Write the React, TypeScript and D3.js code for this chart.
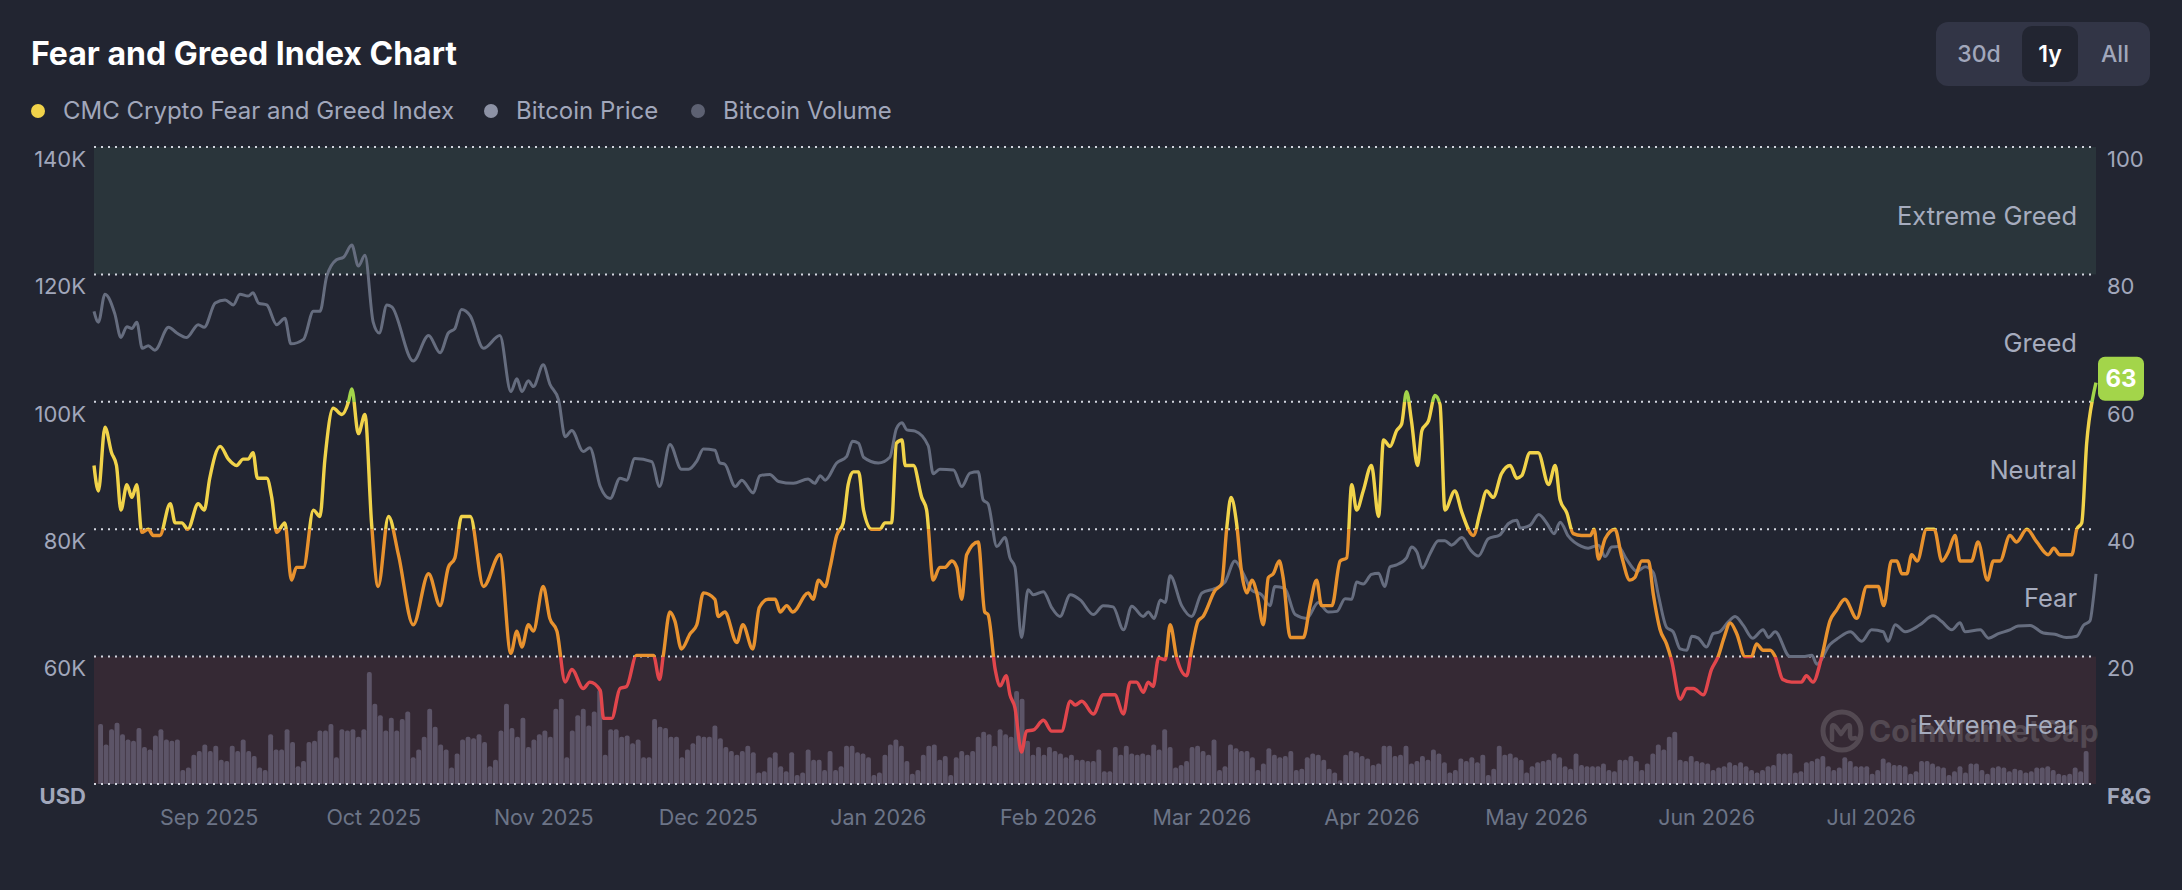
import React, { useEffect, useRef } from "react";
import * as d3 from "d3";

const DAY = 864e5;
const startDate = Date.UTC(2025, 7, 11);
const totalDays = 365;

// [day offset from startDate, index value]
const fearGreed: [number, number][] = [
  [0, 50], [0.8, 46], [2, 56], [3.2, 52], [4.1, 50], [4.9, 43], [6, 47], [6.9, 45], [7.8, 47], [8.7, 39.5],
  [9.9, 40], [10.8, 39], [12, 39], [13.9, 44], [14.8, 41], [16, 41], [17.1, 40], [19, 44], [20.1, 43], [21.1, 48],
  [23, 53], [24.5, 51], [26, 50], [27.2, 51], [28.1, 51], [29, 52], [29.8, 48], [31.5, 48], [32.4, 45], [33.3, 39.5],
  [34.8, 41], [36, 32], [36.9, 34], [38.2, 34], [40, 43], [41.2, 42], [42.1, 51], [43.6, 59], [45.2, 58], [46.4, 60],
  [47, 62], [48.2, 55], [49.4, 58], [50.6, 41], [51.8, 31], [53.7, 42], [55.5, 36], [58.2, 25], [61, 33], [63.1, 28],
  [64.6, 34], [65.8, 35.5], [67, 42], [68.6, 42], [71, 31], [74, 36], [76, 20.5], [77.1, 24], [78, 21.5], [79.2, 25],
  [80.1, 24], [81.9, 31], [83.1, 26], [84.4, 24], [85.9, 16], [87.1, 18], [89.2, 15], [90.4, 16],
  [92.3, 14.7], [92.9, 10.3], [94.4, 10.3], [95.9, 15], [97.1, 15.3], [98.9, 20.2], [102, 20.2], [103.1, 16.4],
  [103.8, 20.2], [105, 27], [105.9, 25.6], [107.1, 21.2], [108.7, 23.6], [109.9, 25], [111.1, 30], [113.2, 29],
  [113.8, 26.3], [115, 27], [117.2, 22.2], [118.3, 25], [120.1, 21.2], [121.3, 27.7], [122.9, 29], [124.2, 29],
  [125.1, 27], [126.3, 28], [127.4, 27], [130.2, 30], [131.1, 29], [132.1, 32], [133.3, 31], [134.2, 34],
  [135.4, 39], [136.6, 41], [137.5, 47], [138.4, 49], [139.4, 49], [140.3, 43], [141.8, 40], [143.3, 40],
  [144.2, 41], [145.4, 41], [146.3, 53.5], [147.3, 54], [147.9, 50], [149.4, 50], [150.9, 45], [151.8, 43],
  [153, 32], [154.2, 34], [155.1, 34], [156.4, 35], [157.3, 34], [158.2, 29], [159.1, 36], [161.2, 38],
  [162.4, 27], [163, 26.6], [164.3, 18], [165.2, 15.4], [166.3, 17], [167, 14], [167.9, 12], [169.1, 5],
  [170, 8.3], [171.3, 8.5], [173.1, 10], [174.6, 8.3], [176.4, 8.3], [178, 13], [178.9, 12.4], [180.1, 13],
  [182.2, 11], [184, 14], [186.1, 14],
  [187.7, 11], [188.9, 16], [190.1, 16], [191.3, 14.4], [192.2, 16], [193.1, 15.3], [194.1, 19.8], [195.3, 19.5],
  [196.2, 25], [197.4, 19.8], [199.2, 17], [200.1, 21], [201.3, 25.6], [202.2, 26.3], [204.4, 30.4], [205.6, 31.4],
  [206.5, 40], [207.3, 45], [208.3, 41], [209.2, 33.4], [210.2, 30], [211.1, 32], [212, 30], [213.2, 25],
  [214.1, 32.4], [215, 33], [216.1, 35], [216.8, 32.4], [218.1, 23], [220.5, 23], [221.7, 28], [222.9, 32],
  [223.8, 28], [225.7, 28], [227.2, 35], [228.4, 35.5], [229.3, 47], [230.2, 43], [231.4, 46], [232.9, 50],
  [234.2, 42], [235.1, 54], [236.3, 53], [237.5, 55.5], [238.4, 56.5], [239.3, 61.6], [240.2, 57], [241.3, 50],
  [242.1, 55.5], [243.3, 57], [244.5, 61], [245.4, 59.6], [246.3, 43], [248.1, 46], [249.4, 42.6], [251.5, 39],
  [252.7, 42.6], [253.9, 46], [255.1, 45], [256.6, 48.7], [258.2, 50], [259.4, 48], [260.3, 48.4], [261.8, 52],
  [263.3, 52], [265.2, 47], [266.4, 50], [267.3, 44.6], [268.5, 42.6], [269.7, 39.3], [271.2, 39], [272.8, 39],
  [273.5, 40], [274.3, 35.3], [275.5, 38.5], [277.3, 40], [278.5, 35.8],
  [280, 32], [280.9, 32.4], [282.2, 35], [283.4, 35], [284.3, 29.7], [285.5, 24.3], [286.7, 22], [287.6, 19.5],
  [289.2, 13.3], [290.4, 15], [291.6, 15], [293.4, 14], [294.9, 18], [296.1, 20], [297.2, 23], [298.3, 25.3],
  [299.5, 23.6], [301, 20], [302.2, 20], [303.1, 22], [304.3, 21], [305.6, 21], [306.5, 20], [307.9, 16.4],
  [309.5, 16], [311.3, 16], [312.2, 17], [313.4, 16], [315, 20], [316.5, 25.6], [317.7, 27.3], [319.2, 29],
  [321.4, 26], [323.2, 31], [325.3, 31], [326.3, 28], [327.7, 35], [328.7, 35], [329.6, 33], [330.5, 33],
  [331.4, 36], [332.4, 35], [334.1, 40], [335.5, 40], [336.9, 35], [338.1, 36.5], [339.3, 39], [340.2, 35],
  [342.3, 35], [343.5, 38], [345.2, 32], [346.3, 35], [347.5, 35], [349.3, 39], [350.5, 38], [352.4, 40],
  [354.2, 38], [356.3, 36], [357.3, 37], [358.4, 36], [360.6, 36], [361.5, 40], [362.4, 41], [363.3, 53.5],
  [364.5, 61], [365, 63],
];

// [day offset from startDate, price in thousand USD]
const btcPrice: [number, number][] = [
  [0, 114.2], [0.8, 112.5], [2, 116.9], [3.8, 113.8], [4.9, 110.1], [6, 111.8], [6.9, 111.5], [7.8, 112.5],
  [8.8, 108.4], [9.9, 108.8], [11.1, 108.1], [13.6, 111.7], [15.1, 110.8], [16.9, 110.1], [19, 112.1], [20.1, 111.7],
  [22.1, 115.5], [23.9, 116], [25.4, 115.2], [26.6, 116.9], [28.1, 116.6], [29, 117.1], [30, 115.5], [31.5, 115.2],
  [33.3, 112.1], [34.8, 113.1], [35.9, 109.1], [38.2, 109.8], [40, 114.2], [41.2, 114.2], [42.4, 119.6], [44.2, 122.3],
  [45.5, 122.7], [47, 124.6], [48.2, 121.3], [49.4, 123], [50.9, 112.5], [52, 110.8], [53.4, 115.2], [54.3, 114.9],
  [58.2, 106.4], [61, 110.4], [63.1, 107.7], [64.6, 110.8], [65.8, 111.5], [67, 114.5], [68.6, 113.5], [71, 108.4],
  [74, 110.4], [76, 101.6], [77.1, 103.6], [78, 101.6], [79.2, 103.3], [80.1, 102.4], [81.9, 105.8], [83.1, 102.8],
  [84.7, 100.3], [85.9, 94.5], [87.1, 95.5], [89.2, 92.2], [90.4, 92.8],
  [92.3, 86.7], [94.1, 84.8], [95.9, 88], [97.1, 87.7], [98.6, 91.1], [101.7, 90.6], [103.1, 86.7], [105, 93.3],
  [107.1, 89.4], [108.4, 89.4], [109.9, 90.7], [111.1, 92.6], [113.2, 92.4], [114.1, 90.4], [115, 90.2], [116.9, 86.7],
  [118.1, 87.7], [120.2, 85.7], [121.4, 88.4], [123.2, 88.6], [124.8, 87.5], [127.5, 87.2], [130.2, 87.9], [131.4, 87.2],
  [132.4, 88.4], [133.3, 87.7], [135.4, 90.4], [137.2, 91.4], [138.3, 93.8], [139.4, 93.5], [140.3, 91.3], [143, 90.4],
  [145.1, 91.3], [146.3, 95.8], [147.3, 96.7], [148.2, 95.6], [149.7, 95.4], [152.1, 93.1], [153, 88.7], [154.2, 89.4],
  [156.7, 89.3], [158.2, 86.7], [159.7, 88.8], [161.2, 89], [162.1, 84.6], [163, 84], [164.6, 77.3], [166.1, 78.7],
  [167, 75.5], [167.9, 74.1], [169.1, 63], [170.3, 70.5], [171.3, 69.7], [173.1, 70.2], [174.6, 67.7], [176.1, 66.3],
  [178, 69.7], [179.8, 68.9], [182.2, 66.6], [184, 68], [185.8, 67.8],
  [187.7, 64.2], [189.2, 67.9], [191.3, 66.3], [192.2, 67], [193.3, 66], [194.4, 68.9], [195.3, 68.5], [196.2, 72.7],
  [198.3, 68], [200.1, 66.3], [202, 70], [204.4, 70.7], [206.2, 71.7], [208, 75], [209.5, 73.1], [211.1, 70.4],
  [212.9, 69.7], [214.4, 68], [215.3, 71], [217.1, 70.7], [219, 66.6], [221.1, 66], [223.2, 68.5], [225, 67],
  [226.6, 67.1], [228.1, 69.1], [229.3, 69], [230.2, 71.7], [231.4, 71.4], [232.9, 72.9], [234.2, 73.1], [235.3, 71],
  [236.3, 74.1], [237.5, 74.4], [239.3, 75.5], [240.2, 77.2], [241.2, 76.4], [242.2, 73.9], [243.6, 76.2], [245.1, 78.2],
  [246.3, 78.2], [247.5, 77.5], [249.4, 78.7], [250.9, 76.8], [252.4, 75.8], [254.2, 78.5], [256.3, 79.1], [257.9, 80.9],
  [259.4, 81.4], [260, 80.2], [261.8, 80.6], [263.4, 82.3], [264.9, 80.9], [266.2, 79.3], [267.3, 81.1], [268.8, 78.9],
  [271.2, 77.3], [272.4, 77], [274.3, 77.5], [275.5, 75.7], [276.7, 77.2], [277.9, 77.3], [279.4, 75.3],
  [281.3, 73.4], [282.8, 74.1], [284.3, 73.2], [285.2, 69.7], [286.7, 64.6], [287.9, 63.9], [289.2, 61.2], [290.4, 61],
  [291.3, 63.2], [292.5, 62.9], [294, 61.5], [295.2, 63.6], [296.4, 63.9], [298, 65.5], [299.2, 66.3], [300.7, 64.9],
  [302.4, 62.9], [304.3, 64.2], [305.3, 63], [306.5, 63.9], [309.2, 60], [311.6, 60], [313.2, 60.2], [314.1, 58.8],
  [316.5, 61.9], [318, 62.9], [320.2, 63.9], [322.3, 62.4], [324.1, 64.2], [326.2, 63.9], [327.1, 62.4], [328.4, 65],
  [330.2, 63.9], [332.9, 65], [335.3, 66.4], [336.9, 65.5], [338.7, 64.2], [340.2, 65.3], [341.1, 63.9], [343.9, 64.2],
  [345.4, 62.9], [347.2, 63.6], [349.3, 64.2], [350.8, 64.8], [353, 64.9], [355.4, 63.7], [357.5, 63.5], [359.6, 63],
  [361.5, 63.2], [362.7, 64.9], [363.9, 65.6], [364.5, 69], [365, 73],
];

// daily volume (relative units), one bar per day starting on day 1
const btcVolume: number[] = [
  47, 31, 43, 48, 39, 35, 34, 44, 29, 27, 38, 43, 35, 34, 35, 11, 13, 23, 26, 31,
  26, 30, 19, 18, 30, 26, 35, 26, 22, 13, 11, 39, 27, 27, 43, 33, 14, 18, 33, 34,
  42, 42, 47, 21, 43, 42, 43, 37, 43, 88, 63, 54, 42, 52, 42, 51, 57, 21, 27, 37,
  59, 45, 31, 27, 13, 24, 35, 37, 36, 39, 33, 14, 19, 42, 63, 44, 37, 52, 29, 35,
  39, 42, 37, 59, 67, 21, 42, 54, 59, 46, 57, 74, 23,
  43, 43, 37, 38, 32, 35, 21, 21, 51, 45, 44, 37, 37, 21, 27, 32, 38, 37, 37, 46,
  36, 29, 26, 23, 26, 30, 25, 9, 10, 21, 25, 14, 10, 25, 7, 9, 27, 19, 19, 11,
  26, 11, 14, 30, 30, 25, 24, 21, 7, 9, 23, 31, 35, 30, 18, 8, 11, 23, 30, 31,
  19, 22, 7, 21, 26, 23, 26, 37, 41, 39, 30, 43, 39, 37, 73, 67, 34, 23, 29, 23,
  29, 26, 24, 21, 23, 19, 19, 18, 18, 27, 10, 10, 29,
  23, 30, 24, 23, 24, 23, 31, 27, 43, 29, 13, 15, 18, 29, 30, 26, 23, 35, 11, 14,
  31, 28, 26, 26, 21, 11, 16, 28, 23, 21, 22, 26, 11, 12, 21, 24, 23, 19, 12, 9,
  3, 23, 26, 25, 22, 20, 15, 16, 30, 30, 22, 23, 30, 16, 18, 22, 19, 27, 24, 17,
  9, 11, 20, 18, 21, 17, 23, 7, 12, 30, 23, 24, 21, 19, 9, 14, 17, 18, 19, 24,
  21, 14, 12, 24, 15, 14, 14, 14, 16, 11, 10, 19, 19, 22,
  18, 11, 16, 24, 31, 27, 37, 41, 19, 18, 22, 18, 17, 16, 11, 13, 14, 17, 15, 17,
  14, 11, 9, 11, 14, 15, 24, 24, 24, 9, 10, 17, 18, 20, 22, 14, 11, 13, 21, 18,
  14, 14, 14, 8, 11, 20, 17, 15, 15, 14, 8, 10, 18, 18, 16, 14, 13, 7, 10, 14,
  9, 16, 16, 11, 8, 13, 14, 13, 10, 12, 11, 9, 10, 13, 13, 14, 11, 8, 7, 8,
  13, 10, 26,
];

const fgTicks = [0, 20, 40, 60, 80, 100];
const priceTicks = [60, 80, 100, 120, 140];
const zones = [
  { name: "Extreme Fear", from: 0, to: 20 },
  { name: "Fear", from: 20, to: 40 },
  { name: "Neutral", from: 40, to: 60 },
  { name: "Greed", from: 60, to: 80 },
  { name: "Extreme Greed", from: 80, to: 100 },
];
const legendNames = ["CMC Crypto Fear and Greed Index", "Bitcoin Price", "Bitcoin Volume"];
const rangeButtons = ["30d", "1y", "All"];

const FONT = "Inter, 'Noto Sans', sans-serif";

const App: React.FC = () => {
  const ref = useRef<SVGSVGElement>(null);

  useEffect(() => {
    drawChart();
  }, []);

  const drawChart = () => {
    const width = 2182;
    const height = 890;
    const plot = { left: 94, right: 2096, top: 147, bottom: 784 };
    const toDate = (d: number) => new Date(startDate + d * DAY);

    const x = d3
      .scaleUtc()
      .domain([toDate(0), toDate(totalDays)])
      .range([plot.left, plot.right]);
    const yFG = d3.scaleLinear().domain([0, 100]).range([plot.bottom, plot.top]);
    const yPrice = d3.scaleLinear().domain([40, 140]).range([plot.bottom, plot.top]);
    const yVol = d3.scaleLinear().domain([0, 100]).range([plot.bottom, yFG(20)]);

    const svg = d3.select(ref.current);
    svg.selectAll("*").remove();
    svg.attr("width", width).attr("height", height).style("display", "block");

    svg.append("rect").attr("width", width).attr("height", height).attr("fill", "#222531");

    const defs = svg.append("defs");
    defs
      .append("clipPath")
      .attr("id", "plot-clip")
      .append("rect")
      .attr("x", plot.left)
      .attr("y", plot.top - 10)
      .attr("width", plot.right - plot.left + 8)
      .attr("height", plot.bottom - plot.top + 10);

    // line colour follows the sentiment band
    const bandColors = ["#e2464c", "#e8922e", "#f1d34a", "#a3d54a", "#16c784"];
    const grad = defs
      .append("linearGradient")
      .attr("id", "fg-grad")
      .attr("gradientUnits", "userSpaceOnUse")
      .attr("x1", 0)
      .attr("x2", 0)
      .attr("y1", yFG(0))
      .attr("y2", yFG(100));
    bandColors.forEach((c, i) => {
      grad.append("stop").attr("offset", i * 0.2).attr("stop-color", c);
      grad.append("stop").attr("offset", (i + 1) * 0.2).attr("stop-color", c);
    });

    // title
    svg
      .append("text")
      .attr("x", 31)
      .attr("y", 65)
      .attr("fill", "#ffffff")
      .attr("font-family", FONT)
      .attr("font-weight", 700)
      .attr("font-size", 32)
      .text("Fear and Greed Index Chart");

    // legend
    const legendColors = ["#f1d34a", "#8d92a5", "#5d6172"];
    const legendX = [38, 491, 698];
    legendNames.forEach((name, i) => {
      svg.append("circle").attr("cx", legendX[i]).attr("cy", 111).attr("r", 7).attr("fill", legendColors[i]);
      svg
        .append("text")
        .attr("x", legendX[i] + 25)
        .attr("y", 111)
        .attr("dy", "0.35em")
        .attr("fill", "#a1a7bb")
        .attr("font-family", FONT)
        .attr("font-size", 24)
        .text(name);
    });

    // range selector
    const btn = svg.append("g");
    btn.append("rect").attr("x", 1936).attr("y", 22).attr("width", 214).attr("height", 64).attr("rx", 12).attr("fill", "#323546");
    btn.append("rect").attr("x", 2022).attr("y", 26).attr("width", 56).attr("height", 56).attr("rx", 10).attr("fill", "#222531");
    const btnX = [1979, 2050, 2115];
    rangeButtons.forEach((b, i) => {
      btn
        .append("text")
        .attr("x", btnX[i])
        .attr("y", 54)
        .attr("dy", "0.35em")
        .attr("text-anchor", "middle")
        .attr("fill", b === "1y" ? "#ffffff" : "#a1a7bb")
        .attr("font-family", FONT)
        .attr("font-size", 23)
        .attr("font-weight", b === "1y" ? 600 : 500)
        .text(b);
    });

    // sentiment bands
    const bandFill: Record<string, string> = { "Extreme Fear": "#352934", "Extreme Greed": "#2a353b" };
    zones
      .filter((z) => bandFill[z.name])
      .forEach((z) => {
        svg
          .append("rect")
          .attr("x", plot.left)
          .attr("y", yFG(z.to))
          .attr("width", plot.right - plot.left)
          .attr("height", yFG(z.from) - yFG(z.to))
          .attr("fill", bandFill[z.name]);
      });

    // watermark
    const wm = svg.append("g").attr("opacity", 0.15).attr("transform", "translate(1842,731)");
    wm.append("circle").attr("r", 19).attr("fill", "none").attr("stroke", "#ffffff").attr("stroke-width", 5);
    wm.append("path")
      .attr("d", "M-10,9 L-10,-3 Q-10,-8 -6,-4 L-1,3 L4,-4 Q8,-8 8,-3 L8,4 Q8,9 13,7")
      .attr("fill", "none")
      .attr("stroke", "#ffffff")
      .attr("stroke-width", 4.5)
      .attr("stroke-linejoin", "round")
      .attr("stroke-linecap", "round");
    wm.append("text")
      .attr("x", 27)
      .attr("dy", "0.35em")
      .attr("fill", "#ffffff")
      .attr("font-family", FONT)
      .attr("font-weight", 700)
      .attr("font-size", 30)
      .text("CoinMarketCap");

    // volume bars
    const barW = 4.9;
    svg
      .append("g")
      .attr("clip-path", "url(#plot-clip)")
      .selectAll("rect")
      .data(btcVolume)
      .join("rect")
      .attr("x", (_, i) => x(toDate(i + 1.2)) - barW / 2)
      .attr("y", (d) => yVol(d))
      .attr("width", barW)
      .attr("height", (d) => plot.bottom - yVol(d) + 4)
      .attr("rx", 2)
      .attr("fill", "#5c5467");

    // dotted grid
    svg
      .append("g")
      .selectAll("line")
      .data(fgTicks)
      .join("line")
      .attr("x1", plot.left)
      .attr("x2", plot.right)
      .attr("y1", (d) => yFG(d))
      .attr("y2", (d) => yFG(d))
      .attr("stroke", "#d3d6df")
      .attr("stroke-width", 2)
      .attr("stroke-dasharray", "2 5");

    // zone labels
    zones.forEach((z) => {
      svg
        .append("text")
        .attr("x", 2077)
        .attr("y", (yFG(z.from) + yFG(z.to)) / 2 + 5)
        .attr("dy", "0.35em")
        .attr("text-anchor", "end")
        .attr("fill", "#a6acbe")
        .attr("font-family", FONT)
        .attr("font-size", 25.5)
        .text(z.name);
    });

    // price line
    const priceLine = d3
      .line<[number, number]>()
      .x((d) => x(toDate(d[0])))
      .y((d) => yPrice(d[1]))
      .curve(d3.curveMonotoneX);
    svg
      .append("path")
      .datum(btcPrice)
      .attr("d", priceLine)
      .attr("fill", "none")
      .attr("stroke", "#666d7f")
      .attr("stroke-width", 3)
      .attr("stroke-linejoin", "round");

    // fear & greed line
    const fgLine = d3
      .line<[number, number]>()
      .x((d) => x(toDate(d[0])))
      .y((d) => yFG(d[1]))
      .curve(d3.curveMonotoneX);
    svg
      .append("path")
      .datum(fearGreed)
      .attr("d", fgLine)
      .attr("fill", "none")
      .attr("stroke", "url(#fg-grad)")
      .attr("stroke-width", 3.4)
      .attr("stroke-linejoin", "round");

    // left axis (USD)
    const axisText = (sel: d3.Selection<SVGTextElement, unknown, null, undefined>) =>
      sel.attr("font-family", FONT).attr("font-size", 22).attr("fill", "#a1a7bb").attr("dy", "0.35em");
    priceTicks.forEach((t) => {
      svg
        .append("text")
        .call(axisText)
        .attr("x", 86)
        .attr("y", yPrice(t) + 12)
        .attr("text-anchor", "end")
        .text(`${t}K`);
    });
    svg
      .append("text")
      .call(axisText)
      .attr("x", 86)
      .attr("y", 796)
      .attr("text-anchor", "end")
      .attr("font-weight", 700)
      .text("USD");

    // right axis (F&G)
    fgTicks
      .filter((t) => t > 0)
      .forEach((t) => {
        svg
          .append("text")
          .call(axisText)
          .attr("x", 2107)
          .attr("y", yFG(t) + 12)
          .text(String(t));
      });
    svg
      .append("text")
      .call(axisText)
      .attr("x", 2107)
      .attr("y", 796)
      .attr("font-weight", 700)
      .text("F&G");

    // month labels
    const months = d3.utcMonth.range(d3.utcMonth.ceil(toDate(0)), toDate(totalDays - 20));
    const fmt = d3.utcFormat("%b %Y");
    svg
      .append("g")
      .selectAll("text")
      .data(months)
      .join("text")
      .attr("x", (d) => x(d))
      .attr("y", 817)
      .attr("dy", "0.35em")
      .attr("text-anchor", "middle")
      .attr("font-family", FONT)
      .attr("font-size", 21.5)
      .attr("fill", "#6c7487")
      .text((d) => fmt(d));

    // current value badge
    const last = fearGreed[fearGreed.length - 1];
    const by = yFG(last[1]) - 4;
    svg
      .append("rect")
      .attr("x", x(toDate(last[0])) + 2)
      .attr("y", by - 22)
      .attr("width", 46)
      .attr("height", 44)
      .attr("rx", 7)
      .attr("fill", "#a3d54a");
    svg
      .append("text")
      .attr("x", x(toDate(last[0])) + 25)
      .attr("y", by)
      .attr("dy", "0.36em")
      .attr("text-anchor", "middle")
      .attr("fill", "#ffffff")
      .attr("font-family", FONT)
      .attr("font-weight", 700)
      .attr("font-size", 24)
      .text(String(last[1]));
  };

  return (
    <>
      <style>{`html,body{margin:0;padding:0;background:#222531;}`}</style>
      <svg ref={ref} />
    </>
  );
};

export default App;
